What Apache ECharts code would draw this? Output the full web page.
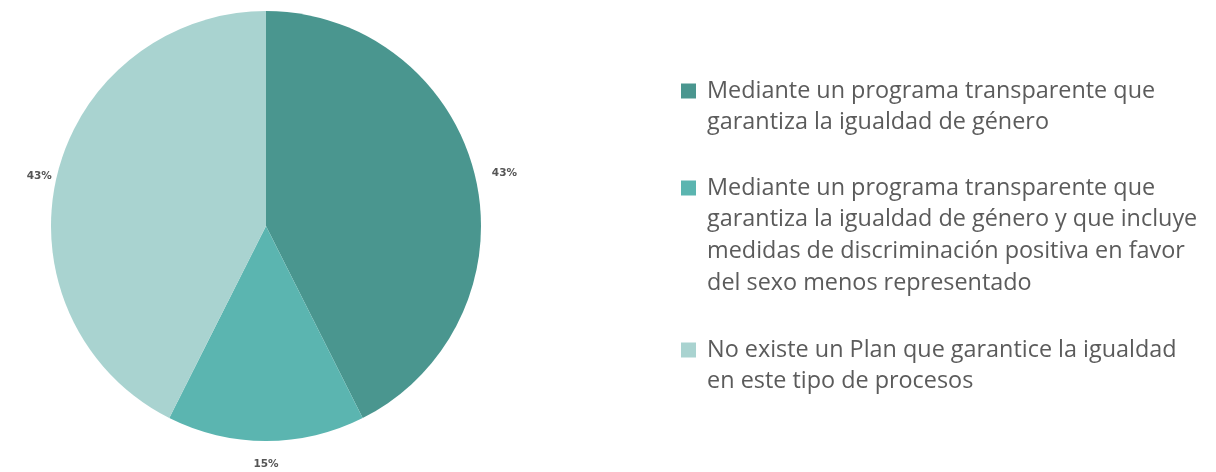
<!DOCTYPE html>
<html>
<head>
<meta charset="utf-8">
<script src="https://cdn.jsdelivr.net/npm/echarts@6/dist/echarts.min.js"></script>
<style>
html,body{margin:0;padding:0;background:#fff;}
#chart{width:1216px;height:472px;}
</style>
</head>
<body>
<div id="chart"></div>
<script>
// ---- data ----
var legendLines = [
  ['Mediante un programa transparente que', 'garantiza la igualdad de género'],
  ['Mediante un programa transparente que', 'garantiza la igualdad de género y que incluye', 'medidas de discriminación positiva en favor', 'del sexo menos representado'],
  ['No existe un Plan que garantice la igualdad', 'en este tipo de procesos']
];
var categories = legendLines.map(function (l) { return l.join(' '); });
var values = [43, 15, 43];
var colors = ['#4a968f', '#5bb5b0', '#a9d3d0'];

// ---- layout ----
var LH = 31.7;
var FS = 23.4;
var firstLineCenters = [91, 188, 350];
var labelLineLengths = [12, 23, 0];

var chart = echarts.init(document.getElementById('chart'), null, {renderer: 'canvas'});

var legends = legendLines.map(function (lines, i) {
  var n = lines.length;
  var H = (2 * n - 1) * LH;
  return {
    orient: 'vertical',
    left: 681,
    top: firstLineCenters[i] - H / 2,
    padding: 0,
    itemWidth: 15,
    itemHeight: 15,
    itemGap: 0,
    icon: 'rect',
    selectedMode: false,
    data: [categories[i]],
    formatter: function (name) {
      var ls = legendLines[categories.indexOf(name)];
      var pre = [];
      for (var k = 0; k < ls.length - 1; k++) pre.push(' ');
      return pre.concat(ls.map(function (s) { return ' ' + s; })).join('\n');
    },
    textStyle: {fontFamily: 'Open Sans', fontSize: FS, lineHeight: LH, color: '#5b5b5b'}
  };
});

chart.setOption({
  animation: false,
  color: colors,
  legend: legends,
  series: [{
    type: 'pie',
    center: [266, 226],
    radius: 215,
    startAngle: 90,
    clockwise: true,
    silent: true,
    label: {
      show: true,
      position: 'outside',
      formatter: function (p) { return p.value + '%'; },
      fontFamily: 'DejaVu Sans',
      fontWeight: 'bold',
      fontSize: 10.5,
      color: '#555'
    },
    labelLine: {show: false, length2: 0},
    labelLayout: function (p) {
      if (p.dataIndex === 1) return {align: 'center', dx: -5};
      return {};
    },
    data: categories.map(function (c, i) {
      return {name: c, value: values[i], labelLine: {length: labelLineLengths[i], length2: 0}};
    })
  }]
});
</script>
</body>
</html>
